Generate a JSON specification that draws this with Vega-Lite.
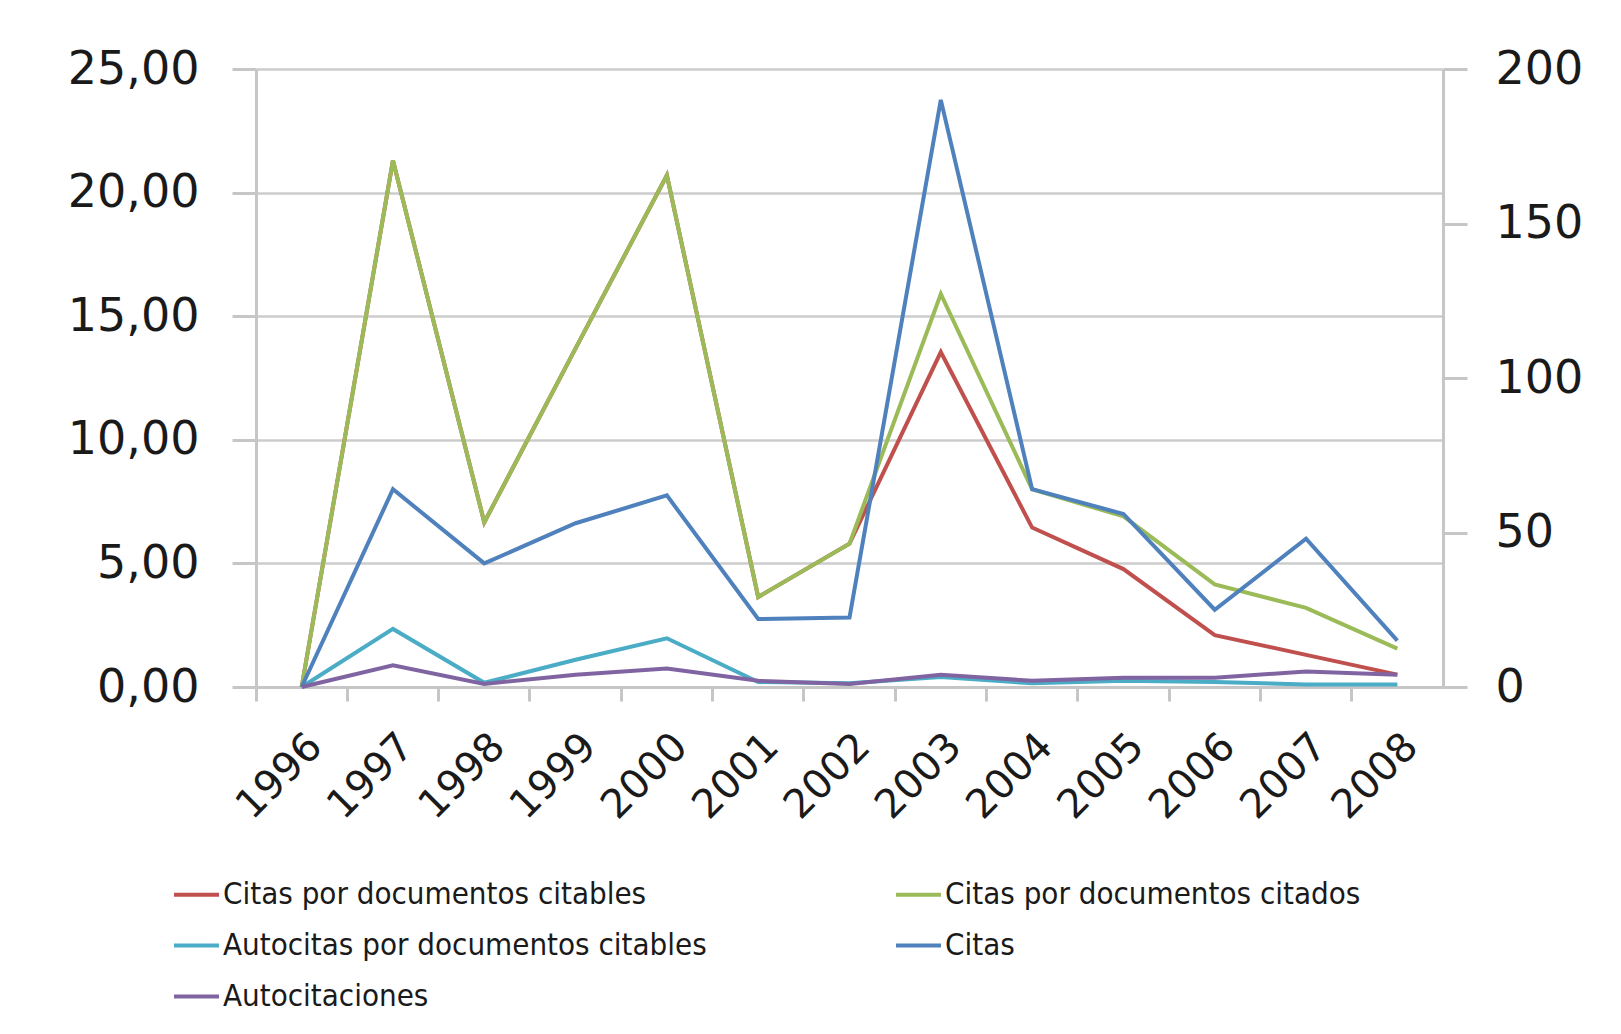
{
  "$schema": "https://vega.github.io/schema/vega-lite/v6.json",
  "autosize": {"type": "none"},
  "width": 1187,
  "height": 618,
  "padding": {"left": 256, "top": 69, "right": 178, "bottom": 347},
  "background": "white",
  "config": {
    "view": {"stroke": null},
    "axis": {"domainColor": "#c6c6c6", "domainWidth": 3, "tickColor": "#c6c6c6", "tickWidth": 3, "gridColor": "#cccccc", "gridWidth": 2.5, "labelFont": "DejaVu Sans", "labelColor": "#1a1a1a", "title": null},
    "legend": {"orient": "none", "direction": "horizontal", "legendX": -84, "legendY": 801, "columns": 2, "columnPadding": 181, "rowPadding": 11, "symbolType": "stroke", "symbolSize": 2025, "symbolStrokeWidth": 4, "labelFont": "DejaVu Sans Condensed, Roboto, sans-serif", "labelFontSize": 31, "labelColor": "#1a1a1a", "labelLimit": 0, "labelOffset": 2, "title": null}
  },
  "data": {"values": [
    {"anio": "1996", "serie": "Citas por documentos citables", "valor": 0, "eje": "izq"},
    {"anio": "1997", "serie": "Citas por documentos citables", "valor": 21.3, "eje": "izq"},
    {"anio": "1998", "serie": "Citas por documentos citables", "valor": 6.66, "eje": "izq"},
    {"anio": "1999", "serie": "Citas por documentos citables", "valor": 13.7, "eje": "izq"},
    {"anio": "2000", "serie": "Citas por documentos citables", "valor": 20.7, "eje": "izq"},
    {"anio": "2001", "serie": "Citas por documentos citables", "valor": 3.64, "eje": "izq"},
    {"anio": "2002", "serie": "Citas por documentos citables", "valor": 5.8, "eje": "izq"},
    {"anio": "2003", "serie": "Citas por documentos citables", "valor": 13.55, "eje": "izq"},
    {"anio": "2004", "serie": "Citas por documentos citables", "valor": 6.45, "eje": "izq"},
    {"anio": "2005", "serie": "Citas por documentos citables", "valor": 4.77, "eje": "izq"},
    {"anio": "2006", "serie": "Citas por documentos citables", "valor": 2.1, "eje": "izq"},
    {"anio": "2007", "serie": "Citas por documentos citables", "valor": 1.3, "eje": "izq"},
    {"anio": "2008", "serie": "Citas por documentos citables", "valor": 0.5, "eje": "izq"},
    {"anio": "1996", "serie": "Citas por documentos citados", "valor": 0, "eje": "izq"},
    {"anio": "1997", "serie": "Citas por documentos citados", "valor": 21.3, "eje": "izq"},
    {"anio": "1998", "serie": "Citas por documentos citados", "valor": 6.66, "eje": "izq"},
    {"anio": "1999", "serie": "Citas por documentos citados", "valor": 13.7, "eje": "izq"},
    {"anio": "2000", "serie": "Citas por documentos citados", "valor": 20.7, "eje": "izq"},
    {"anio": "2001", "serie": "Citas por documentos citados", "valor": 3.64, "eje": "izq"},
    {"anio": "2002", "serie": "Citas por documentos citados", "valor": 5.8, "eje": "izq"},
    {"anio": "2003", "serie": "Citas por documentos citados", "valor": 15.9, "eje": "izq"},
    {"anio": "2004", "serie": "Citas por documentos citados", "valor": 8.0, "eje": "izq"},
    {"anio": "2005", "serie": "Citas por documentos citados", "valor": 6.9, "eje": "izq"},
    {"anio": "2006", "serie": "Citas por documentos citados", "valor": 4.15, "eje": "izq"},
    {"anio": "2007", "serie": "Citas por documentos citados", "valor": 3.2, "eje": "izq"},
    {"anio": "2008", "serie": "Citas por documentos citados", "valor": 1.55, "eje": "izq"},
    {"anio": "1996", "serie": "Autocitas por documentos citables", "valor": 0, "eje": "izq"},
    {"anio": "1997", "serie": "Autocitas por documentos citables", "valor": 2.35, "eje": "izq"},
    {"anio": "1998", "serie": "Autocitas por documentos citables", "valor": 0.17, "eje": "izq"},
    {"anio": "1999", "serie": "Autocitas por documentos citables", "valor": 1.1, "eje": "izq"},
    {"anio": "2000", "serie": "Autocitas por documentos citables", "valor": 1.97, "eje": "izq"},
    {"anio": "2001", "serie": "Autocitas por documentos citables", "valor": 0.2, "eje": "izq"},
    {"anio": "2002", "serie": "Autocitas por documentos citables", "valor": 0.15, "eje": "izq"},
    {"anio": "2003", "serie": "Autocitas por documentos citables", "valor": 0.4, "eje": "izq"},
    {"anio": "2004", "serie": "Autocitas por documentos citables", "valor": 0.15, "eje": "izq"},
    {"anio": "2005", "serie": "Autocitas por documentos citables", "valor": 0.25, "eje": "izq"},
    {"anio": "2006", "serie": "Autocitas por documentos citables", "valor": 0.2, "eje": "izq"},
    {"anio": "2007", "serie": "Autocitas por documentos citables", "valor": 0.1, "eje": "izq"},
    {"anio": "2008", "serie": "Autocitas por documentos citables", "valor": 0.1, "eje": "izq"},
    {"anio": "1996", "serie": "Citas", "valor": 0, "eje": "der"},
    {"anio": "1997", "serie": "Citas", "valor": 64, "eje": "der"},
    {"anio": "1998", "serie": "Citas", "valor": 40, "eje": "der"},
    {"anio": "1999", "serie": "Citas", "valor": 53, "eje": "der"},
    {"anio": "2000", "serie": "Citas", "valor": 62, "eje": "der"},
    {"anio": "2001", "serie": "Citas", "valor": 22, "eje": "der"},
    {"anio": "2002", "serie": "Citas", "valor": 22.5, "eje": "der"},
    {"anio": "2003", "serie": "Citas", "valor": 190, "eje": "der"},
    {"anio": "2004", "serie": "Citas", "valor": 64, "eje": "der"},
    {"anio": "2005", "serie": "Citas", "valor": 56, "eje": "der"},
    {"anio": "2006", "serie": "Citas", "valor": 25, "eje": "der"},
    {"anio": "2007", "serie": "Citas", "valor": 48, "eje": "der"},
    {"anio": "2008", "serie": "Citas", "valor": 15, "eje": "der"},
    {"anio": "1996", "serie": "Autocitaciones", "valor": 0, "eje": "der"},
    {"anio": "1997", "serie": "Autocitaciones", "valor": 7, "eje": "der"},
    {"anio": "1998", "serie": "Autocitaciones", "valor": 1, "eje": "der"},
    {"anio": "1999", "serie": "Autocitaciones", "valor": 4, "eje": "der"},
    {"anio": "2000", "serie": "Autocitaciones", "valor": 6, "eje": "der"},
    {"anio": "2001", "serie": "Autocitaciones", "valor": 2, "eje": "der"},
    {"anio": "2002", "serie": "Autocitaciones", "valor": 1, "eje": "der"},
    {"anio": "2003", "serie": "Autocitaciones", "valor": 4, "eje": "der"},
    {"anio": "2004", "serie": "Autocitaciones", "valor": 2, "eje": "der"},
    {"anio": "2005", "serie": "Autocitaciones", "valor": 3, "eje": "der"},
    {"anio": "2006", "serie": "Autocitaciones", "valor": 3, "eje": "der"},
    {"anio": "2007", "serie": "Autocitaciones", "valor": 5, "eje": "der"},
    {"anio": "2008", "serie": "Autocitaciones", "valor": 4, "eje": "der"}
  ]},
  "encoding": {
    "x": {"field": "anio", "type": "ordinal", "scale": {"type": "band", "paddingInner": 0, "paddingOuter": 0},
      "axis": {"labelAngle": -45, "labelFontSize": 40, "bandPosition": 0, "tickSize": 14, "labelPadding": 25, "grid": false, "domain": true}},
    "color": {"field": "serie", "type": "nominal", "scale": {
      "domain": ["Citas por documentos citables", "Citas por documentos citados", "Autocitas por documentos citables", "Citas", "Autocitaciones"],
      "range": ["#c0504d", "#9bbb59", "#4bacc6", "#4f81bd", "#8064a2"]}}
  },
  "layer": [
    {
      "transform": [{"filter": "datum.eje == 'izq'"}],
      "mark": {"type": "line", "strokeWidth": 4},
      "encoding": {
        "y": {"field": "valor", "type": "quantitative", "scale": {"domain": [0, 25], "nice": false},
          "axis": {"values": [0, 5, 10, 15, 20, 25], "labelExpr": "replace(format(datum.value, '.2f'), '.', ',')", "labelFontSize": 46, "tickSize": 24, "labelPadding": 33, "grid": true}}
      }
    },
    {
      "transform": [{"filter": "datum.eje == 'der'"}],
      "mark": {"type": "line", "strokeWidth": 4},
      "encoding": {
        "y": {"field": "valor", "type": "quantitative", "scale": {"domain": [0, 200], "nice": false},
          "axis": {"orient": "right", "values": [0, 50, 100, 150, 200], "labelFontSize": 46, "tickSize": 24, "labelPadding": 28, "grid": false}}
      }
    }
  ],
  "resolve": {"scale": {"y": "independent"}}
}
